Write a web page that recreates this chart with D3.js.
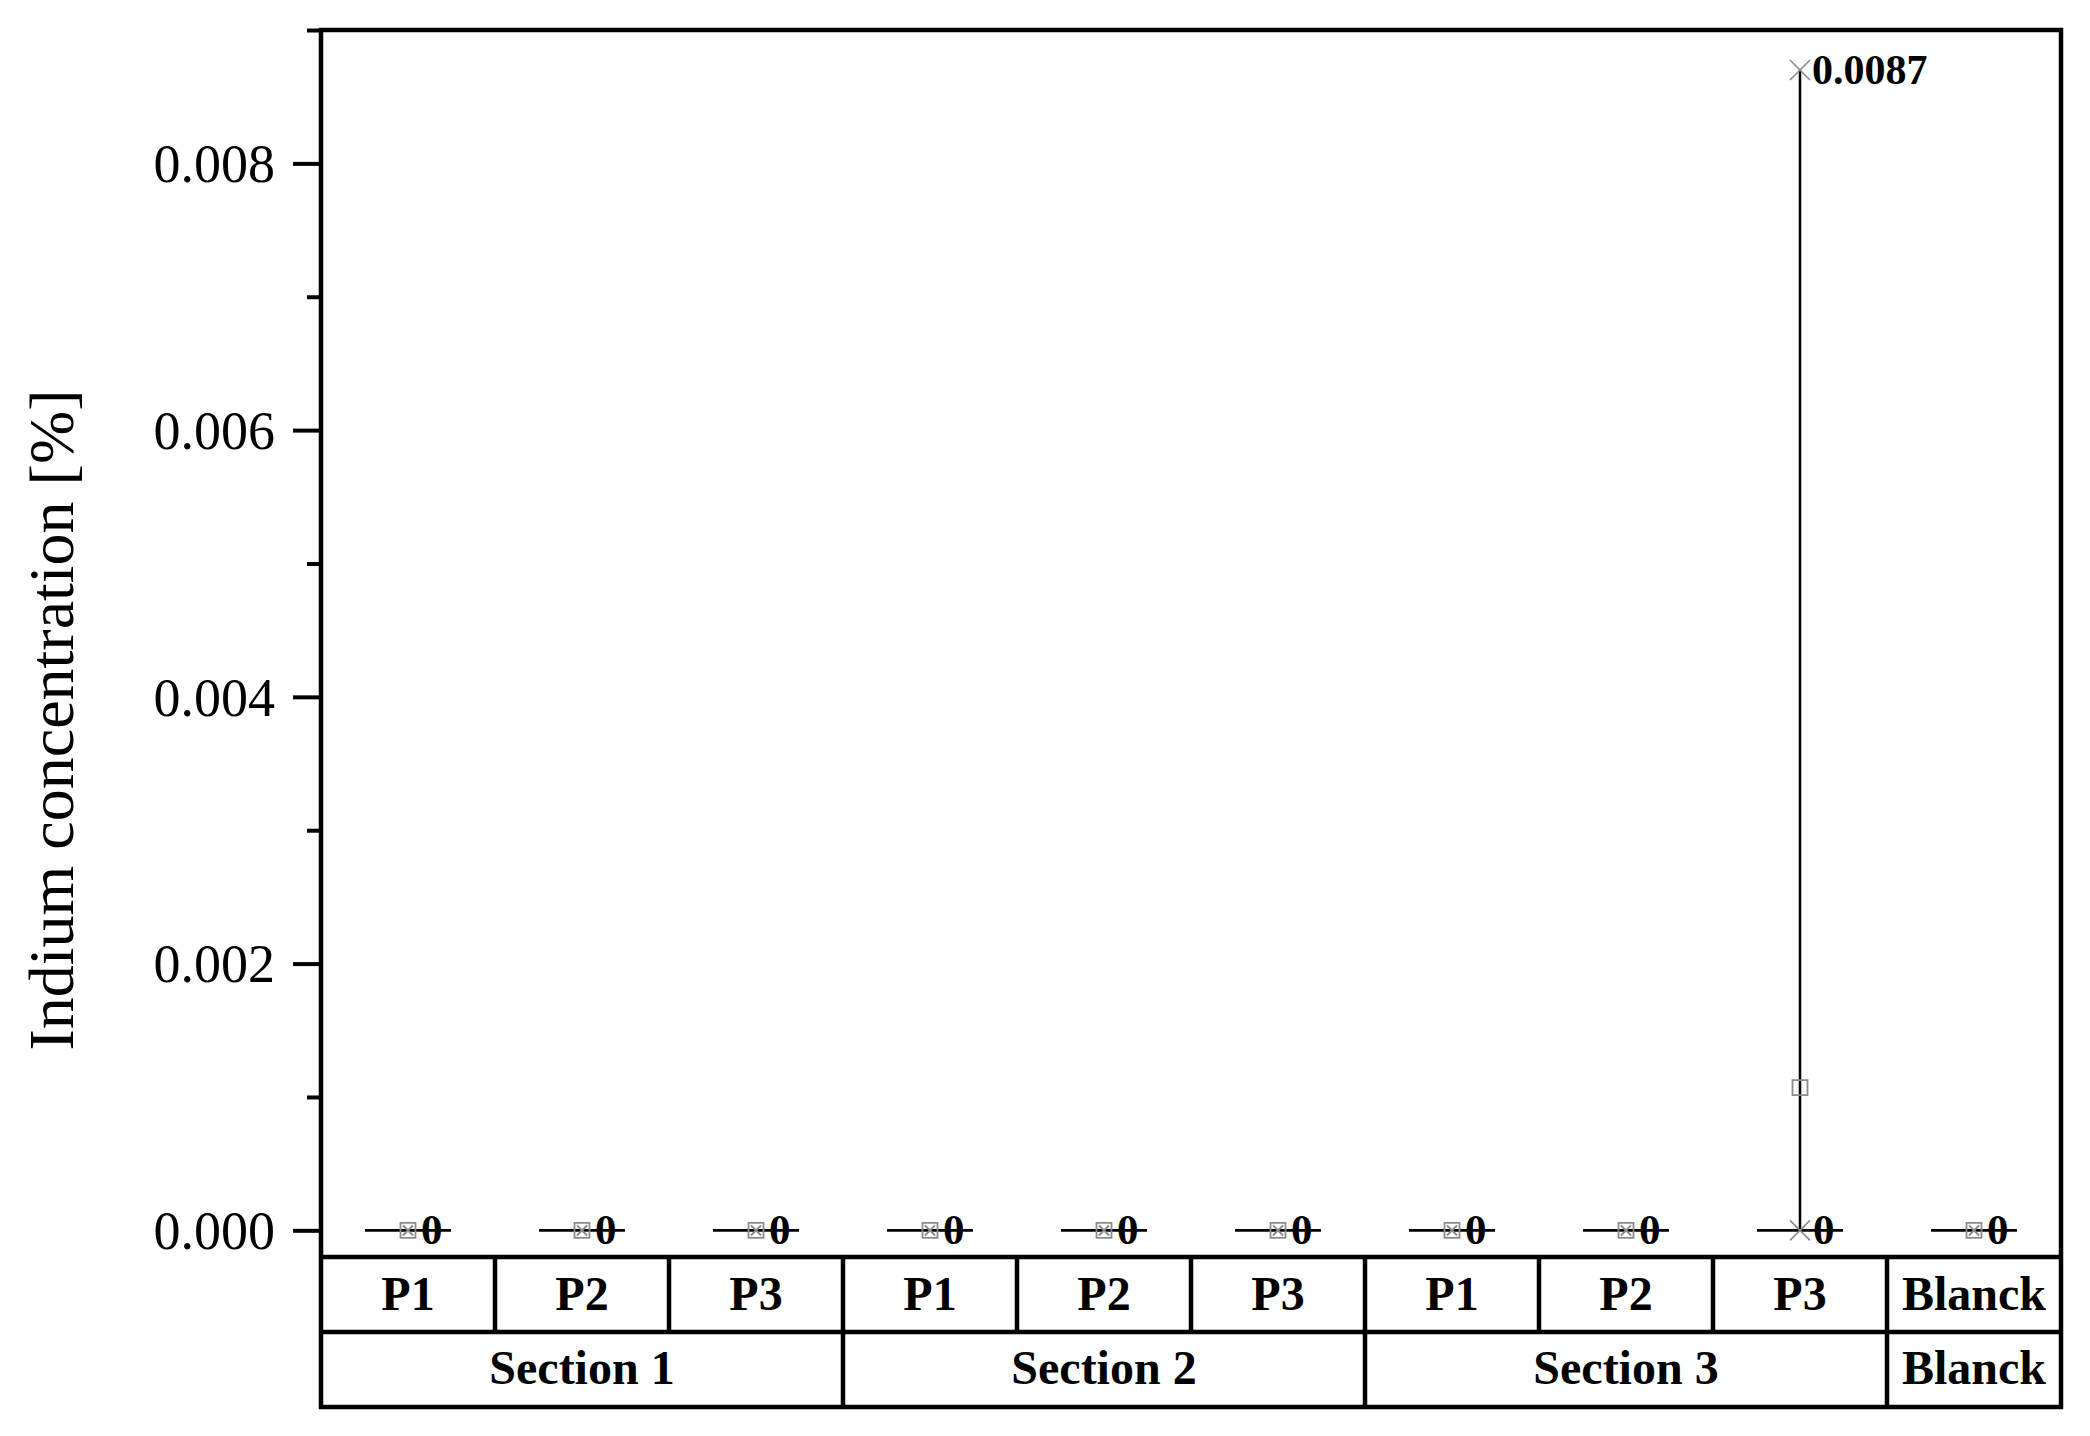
<!DOCTYPE html>
<html>
<head>
<meta charset="utf-8">
<script src="https://cdn.jsdelivr.net/npm/d3@7"></script>
<style>
  html, body { margin: 0; padding: 0; background: #fff; }
  svg { display: block; }
</style>
</head>
<body>
<script>
// ---------- data ----------
const categories = ["P1", "P2", "P3", "P1", "P2", "P3", "P1", "P2", "P3", "Blanck"];
const sections = ["Section 1", "Section 2", "Section 3", "Blanck"];
const sectionSpans = [3, 3, 3, 1];
const minValues    = [0, 0, 0, 0, 0, 0, 0, 0, 0, 0];
const medianValues = [0, 0, 0, 0, 0, 0, 0, 0, 0, 0];
const meanValues   = [0, 0, 0, 0, 0, 0, 0, 0, 0.00107, 0];
const maxValues    = [0, 0, 0, 0, 0, 0, 0, 0, 0.0087, 0];
const medianLabels = ["0", "0", "0", "0", "0", "0", "0", "0", "0", "0"];
const maxLabels    = ["", "", "", "", "", "", "", "", "0.0087", ""];
const majorTicks = [0, 0.002, 0.004, 0.006, 0.008];
const minorTicks = [0.001, 0.003, 0.005, 0.007, 0.009];
const yTitle = "Indium concentration [%]";

(function () {
// ---------- layout ----------
const W = 2090, H = 1436;
const mLeft = 321, mRight = 2061, mTop = 30, plotBottom = 1257, row1Bottom = 1332, row2Bottom = 1407;
const serif = "'Liberation Serif', 'Times New Roman', serif";

const svg = d3.select("body").append("svg").attr("width", W).attr("height", H);

const x = d3.scaleBand().domain(d3.range(categories.length)).range([mLeft, mRight]).padding(0);
const y = d3.scaleLinear().domain([-0.0002, 0.009]).range([plotBottom, mTop]);

// ---------- y axis ----------
const majorAxis = d3.axisLeft(y).tickValues(majorTicks).tickSize(28).tickPadding(18)
  .tickFormat(d3.format(".3f")).tickSizeOuter(0);
const gMajor = svg.append("g").attr("transform", `translate(${mLeft},0)`).call(majorAxis);
gMajor.select(".domain").remove();
gMajor.selectAll(".tick line").attr("stroke", "#000").attr("stroke-width", 4);
gMajor.selectAll(".tick text").attr("font-family", serif).attr("font-size", 54)
  .attr("fill", "#000").attr("dy", "0.34em");

const minorAxis = d3.axisLeft(y).tickValues(minorTicks).tickSize(14).tickFormat("").tickSizeOuter(0);
const gMinor = svg.append("g").attr("transform", `translate(${mLeft},0)`).call(minorAxis);
gMinor.select(".domain").remove();
gMinor.selectAll(".tick line").attr("stroke", "#000").attr("stroke-width", 4);

// y title
svg.append("text")
  .attr("transform", `translate(73,${(395 + 1045) / 2}) rotate(-90)`)
  .attr("text-anchor", "middle")
  .attr("font-family", serif).attr("font-size", 64).attr("fill", "#000")
  .text(yTitle);

// ---------- marks ----------
const idx = d3.range(categories.length);
const cx = i => x(i) + x.bandwidth() / 2;
const marks = svg.append("g");

// whiskers (min to max)
marks.selectAll("line.whisker").data(idx.filter(i => maxValues[i] > minValues[i])).join("line")
  .attr("class", "whisker")
  .attr("x1", cx).attr("x2", cx)
  .attr("y1", i => y(minValues[i])).attr("y2", i => y(maxValues[i]))
  .attr("stroke", "#000").attr("stroke-width", 2.5);

// median labels
marks.selectAll("text.med").data(idx).join("text")
  .attr("class", "med")
  .attr("x", i => cx(i) + 13).attr("y", i => y(medianValues[i]) + 14)
  .attr("font-family", serif).attr("font-weight", "bold").attr("font-size", 43).attr("fill", "#000")
  .text(i => medianLabels[i]);

// max labels
marks.selectAll("text.max").data(idx.filter(i => maxLabels[i] !== "")).join("text")
  .attr("class", "max")
  .attr("x", i => cx(i) + 12).attr("y", i => y(maxValues[i]) + 14)
  .attr("font-family", serif).attr("font-weight", "bold").attr("font-size", 42).attr("fill", "#000")
  .text(i => maxLabels[i]);

// median (collapsed box) lines
marks.selectAll("line.median").data(idx).join("line")
  .attr("class", "median")
  .attr("x1", i => cx(i) - 43).attr("x2", i => cx(i) + 43)
  .attr("y1", i => y(medianValues[i])).attr("y2", i => y(medianValues[i]))
  .attr("stroke", "#000").attr("stroke-width", 2.8);

// min/max cross markers
const crossPath = s => `M${-s/2},${-s/2}L${s/2},${s/2}M${-s/2},${s/2}L${s/2},${-s/2}`;
const extremes = [];
idx.forEach(i => {
  const big = maxValues[i] !== meanValues[i];
  extremes.push({ i, v: minValues[i], s: big ? 20 : 10 });
  extremes.push({ i, v: maxValues[i], s: big ? 20 : 10 });
});
marks.selectAll("path.cross").data(extremes).join("path")
  .attr("class", "cross")
  .attr("transform", d => `translate(${cx(d.i)},${y(d.v)})`)
  .attr("d", d => crossPath(d.s))
  .attr("fill", "none").attr("stroke", "#8a8a8a").attr("stroke-width", 1.6);

// mean squares
marks.selectAll("rect.mean").data(idx).join("rect")
  .attr("class", "mean")
  .attr("x", i => cx(i) - 7.5).attr("y", i => y(meanValues[i]) - 7.5)
  .attr("width", 15).attr("height", 15)
  .attr("fill", "none").attr("stroke", "#8a8a8a").attr("stroke-width", 1.8);

// ---------- frame & table ----------
const frame = svg.append("g").attr("stroke", "#000").attr("stroke-width", 4.5).attr("fill", "none");
frame.append("rect").attr("x", mLeft).attr("y", mTop).attr("width", mRight - mLeft).attr("height", row2Bottom - mTop);
frame.append("line").attr("x1", mLeft).attr("x2", mRight).attr("y1", plotBottom).attr("y2", plotBottom);
frame.append("line").attr("x1", mLeft).attr("x2", mRight).attr("y1", row1Bottom).attr("y2", row1Bottom);
// row 1 dividers
frame.selectAll("line.c1").data(d3.range(1, categories.length)).join("line")
  .attr("class", "c1")
  .attr("x1", i => x(i)).attr("x2", i => x(i))
  .attr("y1", plotBottom).attr("y2", row1Bottom);
// row 2 dividers
const cum = Array.from(d3.cumsum(sectionSpans));
frame.selectAll("line.c2").data(cum.slice(0, -1)).join("line")
  .attr("class", "c2")
  .attr("x1", i => x(i)).attr("x2", i => x(i))
  .attr("y1", row1Bottom).attr("y2", row2Bottom);

// row 1 labels
svg.append("g").selectAll("text").data(idx).join("text")
  .attr("x", cx).attr("y", 1310)
  .attr("text-anchor", "middle")
  .attr("font-family", serif).attr("font-weight", "bold").attr("font-size", 48).attr("fill", "#000")
  .text(i => categories[i]);

// row 2 labels
const starts = [0, ...cum.slice(0, -1)];
svg.append("g").selectAll("text").data(sections.map((s, k) => ({ s, a: starts[k], n: sectionSpans[k] }))).join("text")
  .attr("x", d => (x(d.a) + x(d.a + d.n - 1) + x.bandwidth()) / 2).attr("y", 1384)
  .attr("text-anchor", "middle")
  .attr("font-family", serif).attr("font-weight", "bold").attr("font-size", 48).attr("fill", "#000")
  .text(d => d.s);
})();
</script>
</body>
</html>
